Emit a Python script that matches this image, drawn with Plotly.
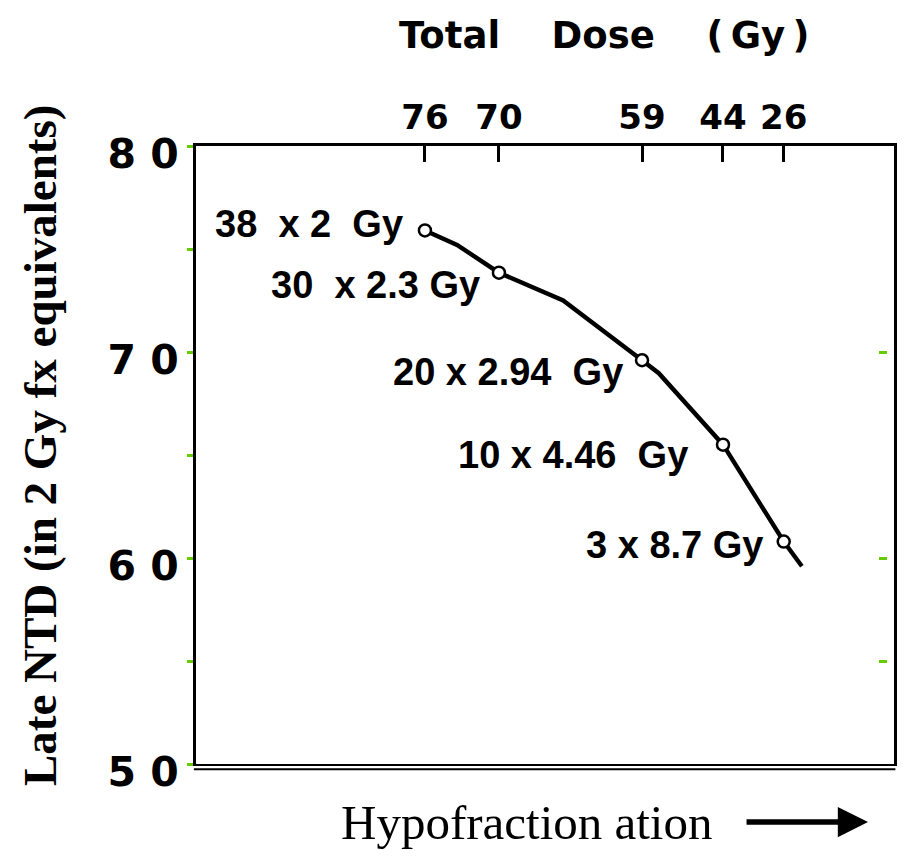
import plotly.graph_objects as go

# fractionation schemes (position along the hypofractionation axis, 0-100)
scheme_pos = [32.8, 43.4, 63.9, 75.5, 84.2]
scheme_ntd = [75.9, 73.85, 69.6, 65.5, 60.8]
scheme_labels = ["38\u00a0 x 2\u00a0 Gy", "30\u00a0 x 2.3 Gy", "20 x 2.94\u00a0 Gy",
                 "10 x 4.46\u00a0 Gy", "3\u00a0x 8.7\u00a0Gy"]
total_dose = ["76", "70", "59", "44", "26"]

# hand-drawn curve through the schemes
curve_pos = [32.8, 37.4, 43.4, 52.6, 63.9, 66.3, 75.5, 84.2, 86.8]
curve_ntd = [75.9, 75.2, 73.85, 72.5, 69.6, 68.97, 65.5, 60.8, 59.6]

y_ticks = [50, 55, 60, 65, 70, 75, 80]
y_ticktext = ["5\u00a00", "", "6\u00a00", "", "7\u00a00", "", "8\u00a00"]
right_ticks = [70, 60, 55]

GREEN = "#66cc00"
SANS = "Liberation Sans, Arial, sans-serif"
WIDE = "DejaVu Sans, Verdana, sans-serif"
SERIF = "Liberation Serif, Times New Roman, serif"

# label offsets in pixels (left of each point)
lab_dx = [-20, -17, -17, -33, -19]
lab_dy = [6, -12, -12, -10, -3]

fig = go.Figure()
fig.add_trace(go.Scatter(x=curve_pos, y=curve_ntd, mode="lines",
                         line=dict(color="black", width=4.4), showlegend=False))
fig.add_trace(go.Scatter(x=scheme_pos, y=scheme_ntd, mode="markers",
                         marker=dict(symbol="circle", size=12, color="white",
                                     line=dict(color="black", width=2.5)),
                         showlegend=False))
# invisible traces to activate the extra axes
fig.add_trace(go.Scatter(x=scheme_pos, y=scheme_ntd, xaxis="x2", mode="markers",
                         marker=dict(opacity=0), showlegend=False, hoverinfo="skip"))
fig.add_trace(go.Scatter(x=scheme_pos, y=scheme_ntd, yaxis="y2", mode="markers",
                         marker=dict(opacity=0), showlegend=False, hoverinfo="skip"))

for px, py, t, dx, dy in zip(scheme_pos, scheme_ntd, scheme_labels, lab_dx, lab_dy):
    fig.add_annotation(x=px, y=py, text=t, showarrow=False, xanchor="right",
                       yanchor="middle", xshift=dx, yshift=dy,
                       font=dict(family=SANS, size=38, color="black", weight="bold"))

# titles
fig.add_annotation(xref="paper", yref="paper", x=0.5845, y=1.178,
                   text="Total\u00a0\u00a0\u00a0 Dose\u00a0\u00a0\u00a0 (\u2009Gy\u2009)",
                   showarrow=False, xanchor="center", yanchor="middle",
                   font=dict(family=WIDE, size=37, color="black", weight="bold"))
fig.add_annotation(xref="paper", yref="paper", x=-0.2235, y=0.516,
                   text="Late NTD (in 2 Gy fx equivalents)", textangle=-90,
                   showarrow=False, xanchor="center", yanchor="middle",
                   font=dict(family=SERIF, size=47, color="black", weight="bold"))
fig.add_annotation(xref="paper", yref="paper", x=0.4728, y=-0.094,
                   text="Hypofraction ation", showarrow=False,
                   xanchor="center", yanchor="middle",
                   font=dict(family=SERIF, size=49, color="black"))
fig.add_annotation(xref="paper", yref="paper", x=0.9628, y=-0.094,
                   ax=-123, ay=0, axref="pixel", ayref="pixel", text="",
                   showarrow=True, arrowhead=2, arrowsize=1.1, arrowwidth=5.5,
                   arrowcolor="black")

# second (lower) line of the double bottom border
fig.add_shape(type="line", xref="paper", yref="paper", x0=-0.003, x1=1.002,
              y0=-0.0085, y1=-0.0085, line=dict(color="black", width=2))

# the page body adds an 8px offset, so the margins are reduced by 8px
fig.update_layout(
    width=913, height=864,
    margin=dict(l=188, r=27, t=138, b=108, autoexpand=False),
    paper_bgcolor="white", plot_bgcolor="white",
    xaxis=dict(range=[0, 100], showgrid=False, zeroline=False, showticklabels=False,
               ticks="", showline=True, linecolor="black", linewidth=2,
               automargin=False),
    xaxis2=dict(range=[0, 100], overlaying="x", side="top", showgrid=False,
                zeroline=False, tickmode="array", tickvals=scheme_pos,
                ticktext=total_dose, ticks="inside", ticklen=16, tickwidth=2.5,
                tickcolor="black", showline=True, linecolor="black", linewidth=3,
                ticklabelstandoff=0, automargin=False,
                tickfont=dict(family=WIDE, size=34, color="black", weight="bold")),
    yaxis=dict(range=[50, 80], showgrid=False, zeroline=False, tickmode="array",
               tickvals=y_ticks, ticktext=y_ticktext, ticks="outside", ticklen=6,
               tickwidth=3, tickcolor=GREEN, showline=True, linecolor="black",
               linewidth=3, mirror=True, automargin=False, ticklabelshift=8,
               tickfont=dict(family=WIDE, size=41, color="black", weight="bold")),
    yaxis2=dict(range=[50, 80], overlaying="y", side="right", anchor="free",
                position=0.99, showgrid=False, zeroline=False, showline=False,
                tickmode="array", tickvals=right_ticks, ticks="inside", ticklen=8,
                tickwidth=3, tickcolor=GREEN, showticklabels=False, automargin=False),
)

fig.write_html("out.html")
